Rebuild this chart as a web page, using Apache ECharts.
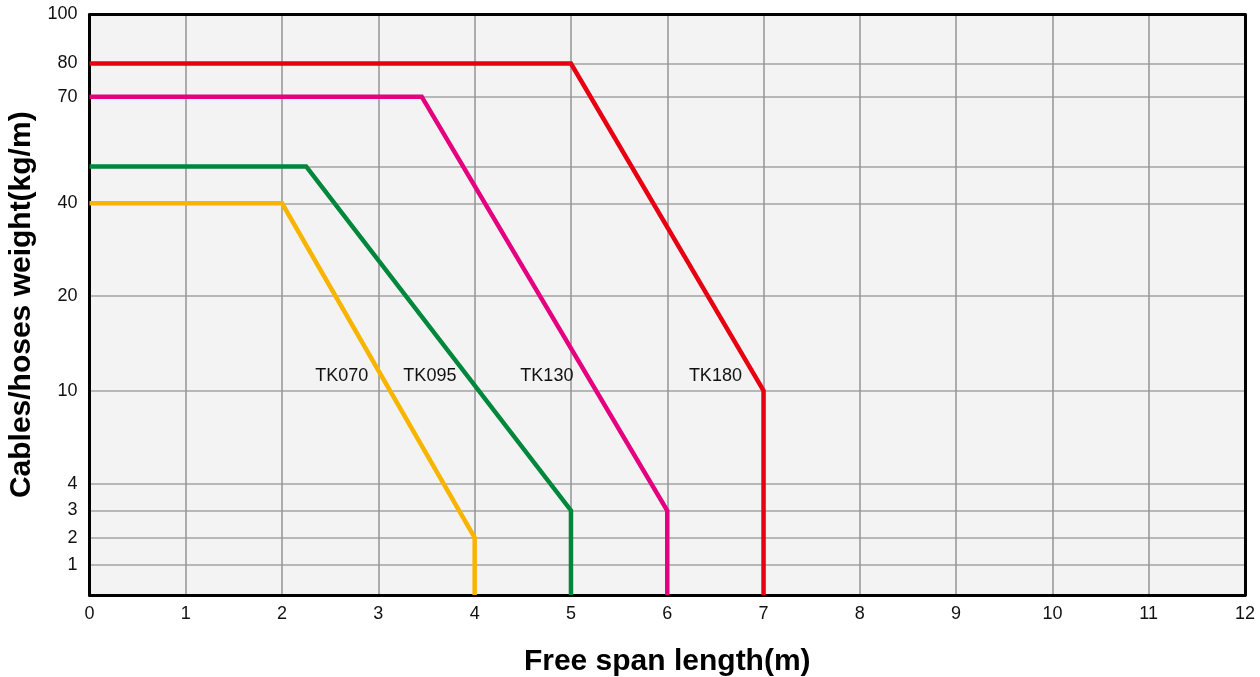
<!DOCTYPE html>
<html>
<head>
<meta charset="utf-8">
<script src="https://cdn.jsdelivr.net/npm/echarts@6/dist/echarts.min.js"></script>
<style>
html,body{margin:0;padding:0;background:#fff;}
#chart{width:1260px;height:677px;}
</style>
</head>
<body>
<div id="chart"></div>
<script>
// ---- data ----
const seriesNames = ['TK070', 'TK095', 'TK130', 'TK180'];
const tk070X = [0, 2, 4, 4];
const tk070Y = [40, 40, 2, 0];
const tk095X = [0, 2.25, 5, 5];
const tk095Y = [50, 50, 3, 0];
const tk130X = [0, 3.45, 6, 6];
const tk130Y = [70, 70, 3, 0];
const tk180X = [0, 5, 7, 7];
const tk180Y = [80, 80, 10, 0];
const labelX = [2.62, 3.535, 4.75, 6.5];
const labelY = [11.5, 11.5, 11.5, 11.5];

const xTicks = [0,1,2,3,4,5,6,7,8,9,10,11,12];
const yTickValues = [0, 1, 2, 3, 4, 10, 20, 40, 50, 70, 80, 100];
const yTickLabels = ['', '1', '2', '3', '4', '10', '20', '40', '', '70', '80', '100'];
// piecewise (non-uniform) y scale of the original chart: axis position of each tick value
const yTickPos = [0, 30.3, 57.3, 84.5, 111.3, 204.3, 299, 391.7, 428.5, 498.3, 531.5, 580.5];

function toAxis(v) {
  for (let i = 1; i < yTickValues.length; i++) {
    if (v <= yTickValues[i]) {
      const a = yTickValues[i - 1], b = yTickValues[i];
      return yTickPos[i - 1] + (v - a) / (b - a) * (yTickPos[i] - yTickPos[i - 1]);
    }
  }
  return yTickPos[yTickPos.length - 1];
}
function labelFor(p) {
  for (let i = 0; i < yTickPos.length; i++) {
    if (Math.abs(yTickPos[i] - p) < 0.01) return yTickLabels[i];
  }
  return '';
}

const colors = ['#f8b500', '#00873c', '#e4007f', '#e60012'];
const xs = [tk070X, tk095X, tk130X, tk180X];
const ys = [tk070Y, tk095Y, tk130Y, tk180Y];
const FONT = 'Liberation Sans, Arial, sans-serif';

const series = seriesNames.map((name, i) => ({
  name: name,
  type: 'line',
  showSymbol: false,
  symbol: 'none',
  z: 20 + i,
  lineStyle: { color: colors[i], width: 4.5, join: 'miter' },
  itemStyle: { color: colors[i] },
  data: xs[i].map((x, k) => [x, toAxis(ys[i][k])]),
  markPoint: {
    symbol: 'circle',
    symbolSize: 0,
    silent: true,
    z: 30,
    label: {
      show: true,
      position: 'inside',
      formatter: name,
      color: '#111',
      fontSize: 18,
      fontFamily: FONT
    },
    data: [{ coord: [labelX[i], toAxis(labelY[i])] }]
  }
}));

const yMax = yTickPos[yTickPos.length - 1];
const yPos = yTickValues.map(toAxis);
const frameLine = { show: true, onZero: false, lineStyle: { color: '#000', width: 3 } };

const chart = echarts.init(document.getElementById('chart'));
chart.setOption({
  animation: false,
  backgroundColor: '#ffffff',
  grid: {
    left: 89.5, right: 15, top: 14.5, bottom: 82,
    show: true,
    backgroundColor: '#f2f3f2',
    borderColor: '#000',
    borderWidth: 0,
    containLabel: false,
    outerBoundsMode: 'none'
  },
  xAxis: [{
    type: 'value',
    min: 0, max: 12, interval: 1,
    name: 'Free span length(m)',
    nameLocation: 'middle',
    nameGap: 52,
    nameTextStyle: { fontSize: 30, fontWeight: 'bold', color: '#000', fontFamily: FONT },
    axisLine: frameLine,
    axisTick: { show: false },
    axisLabel: { fontSize: 18, color: '#111', margin: 10, fontFamily: FONT,
      formatter: v => xTicks.indexOf(v) >= 0 ? String(v) : '' },
    splitLine: { show: true, lineStyle: { color: '#959595', width: 1.5 } },
    z: 10
  }, {
    type: 'value', position: 'top',
    min: 0, max: 12, interval: 1,
    axisLine: frameLine, axisTick: { show: false }, axisLabel: { show: false },
    splitLine: { show: false }, z: 10
  }],
  yAxis: [{
    type: 'value',
    min: 0, max: yMax,
    name: 'Cables/hoses weight(kg/m)',
    nameLocation: 'middle',
    nameGap: 50,
    nameRotate: 90,
    nameTextStyle: { fontSize: 30, fontWeight: 'bold', color: '#000', fontFamily: FONT },
    axisLine: frameLine,
    axisTick: { show: false, customValues: yPos },
    axisLabel: { fontSize: 18, color: '#111', margin: 12, customValues: yPos,
      fontFamily: FONT,
      formatter: v => labelFor(v) },
    splitLine: { show: true, lineStyle: { color: '#a3a3a3', width: 1.5 } },
    z: 10
  }, {
    type: 'value', position: 'right',
    min: 0, max: yMax,
    axisLine: frameLine, axisTick: { show: false }, axisLabel: { show: false },
    splitLine: { show: false }, z: 10
  }],
  series: series
});
</script>
</body>
</html>
